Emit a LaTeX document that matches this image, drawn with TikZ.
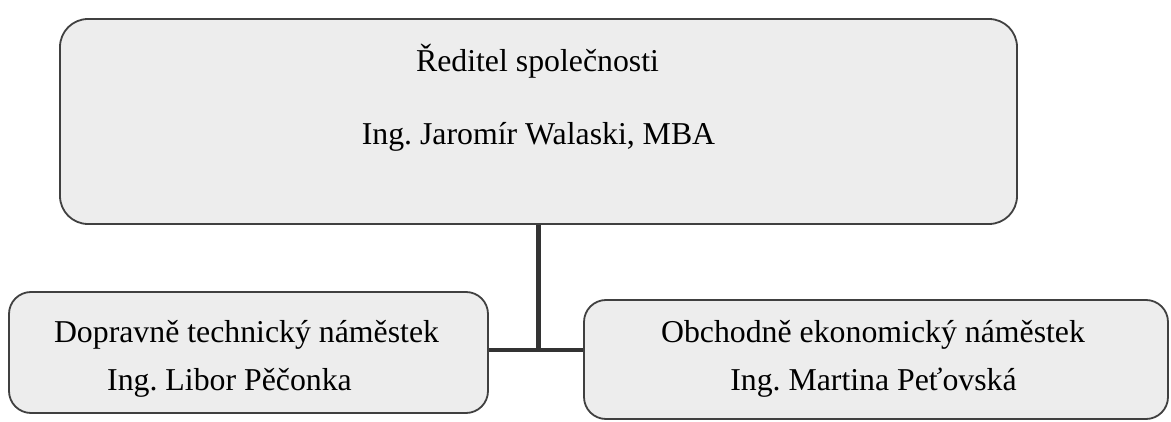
\documentclass[tikz,border=0pt]{standalone}
\usepackage{fontspec}
\setmainfont{Liberation Serif}
\frenchspacing
\begin{document}
\begin{tikzpicture}[x=1pt,y=-1pt,
  box/.style={draw=black!75, line width=1.8pt, fill=black!7, rounded corners=#1, inner sep=0pt},
  box/.default=24pt,
  lbl/.style={anchor=base, inner sep=0pt, font=\fontsize{31.8}{38}\selectfont\frenchspacing},
  conn/.style={draw=black!80, line width=4.5pt}]
\useasboundingbox (0,0) rectangle (1171,422);
% boxes
\node[box=28pt, minimum width=957pt, minimum height=205pt] (top) at (538.5,121.5) {};
\node[box=22pt, minimum width=479pt, minimum height=121pt] (left) at (248.5,352.5) {};
\node[box=22pt, minimum width=584pt, minimum height=119pt] (right) at (876,359.5) {};
% texts
\node[lbl] (t1) at (537.5,72) {Ředitel společnosti};
\node[lbl] (t2) at (538.5,145) {Ing. Jaromír Walaski, MBA};
\node[lbl] (l1) at (246.5,342) {Dopravně technický náměstek};
\node[lbl] (l2) at (229.5,390) {Ing. Libor Pěčonka};
\node[lbl] (r1) at (873,342) {Obchodně ekonomický náměstek};
\node[lbl] (r2) at (873.5,390) {Ing. Martina Peťovská};
% connectors
\coordinate (j) at (top.south |- 0,350);
\draw[conn] (top.south) -- (j);
\draw[conn] (left.east |- j) -- (right.west |- j);
\end{tikzpicture}
\end{document}
